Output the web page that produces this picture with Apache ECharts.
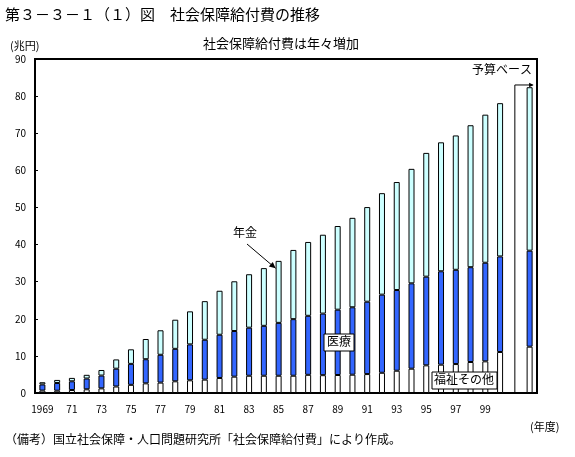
<!DOCTYPE html>
<html>
<head>
<meta charset="utf-8">
<script src="https://cdn.jsdelivr.net/npm/echarts@6/dist/echarts.min.js"></script>
<style>html,body{margin:0;padding:0;background:#fff;}#c{width:575px;height:457px;}</style>
</head>
<body>
<div id="c"></div>
<script>
// ---- data (兆円) ----
const categories = ['1969','1970','1971','1972','1973','1974','1975','1976','1977','1978','1979','1980','1981','1982','1983','1984','1985','1986','1987','1988','1989','1990','1991','1992','1993','1994','1995','1996','1997','1998','1999','2000','gap','2001'];
const tickLabels = ['1969','','71','','73','','75','','77','','79','','81','','83','','85','','87','','89','','91','','93','','95','','97','','99','','',''];
const welfare = [0.65,0.62,0.80,1.00,1.25,1.75,2.20,2.60,2.80,3.15,3.42,3.60,4.05,4.40,4.65,4.65,4.65,4.65,4.90,4.80,4.85,4.93,5.10,5.45,6.00,6.55,7.45,7.63,7.80,8.35,8.53,11.05,'-',12.48];
const medical = [1.65,2.08,2.35,2.90,3.45,4.80,5.65,6.50,7.50,8.75,9.68,10.75,11.65,12.30,12.95,13.45,14.25,15.25,15.90,16.60,17.60,18.17,19.50,21.05,21.75,23.00,23.90,25.17,25.40,25.55,26.57,25.75,'-',25.87];
const pension = [0.60,0.82,0.92,1.00,1.50,2.50,3.92,5.45,6.60,7.85,8.90,10.40,11.85,13.40,14.40,15.55,16.70,18.65,19.90,21.25,22.55,24.10,25.50,27.35,29.10,30.85,33.35,34.75,36.20,38.25,39.90,41.30,'-',44.05];
const yMin = 0, yMax = 90, yStep = 10;

const FONT = '"Noto Sans CJK JP", sans-serif';
const chart = echarts.init(document.getElementById('c'), null, {renderer:'canvas'});

function barSeries(name, data, color) {
  return {
    name: name, type: 'bar', stack: 'total', data: data, barWidth: 6,
    itemStyle: {color: color, borderColor: '#000', borderWidth: 1},
    emphasis: {disabled: true}, animation: false
  };
}

chart.setOption({
  animation: false,
  textStyle: {fontFamily: FONT},
  grid: {left: 35, right: 38, top: 59, bottom: 64, show: true, borderColor: '#000', borderWidth: 2, backgroundColor: 'transparent'},
  xAxis: {
    type: 'category', data: categories, boundaryGap: true,
    axisLine: {lineStyle: {color: '#000', width: 2}},
    axisTick: {inside: true, interval: 0, length: 3, lineStyle: {color: '#000', width: 1}},
    axisLabel: {interval: 0, color: '#000', fontSize: 10, fontFamily: FONT, margin: 11,
      formatter: function (v, i) { return tickLabels[i]; }},
    splitLine: {show: false}
  },
  yAxis: {
    type: 'value', min: yMin, max: yMax, interval: yStep,
    axisLine: {show: true, lineStyle: {color: '#000', width: 2}},
    axisTick: {show: true, inside: true, length: 3, lineStyle: {color: '#000', width: 1}},
    axisLabel: {color: '#000', fontSize: 10, fontFamily: FONT, margin: 9},
    splitLine: {show: false}
  },
  series: [
    barSeries('福祉その他', welfare, '#FFFFFF'),
    barSeries('医療', medical, '#3366FF'),
    barSeries('年金', pension, '#CCFFFF')
  ]
});

// ---- annotations positioned from the axes ----
function px(cat, val) { return chart.convertToPixel({xAxisIndex: 0, yAxisIndex: 0}, [cat, val]); }
function arrowHead(x1, y1, x2, y2, size) {
  const a = Math.atan2(y2 - y1, x2 - x1);
  const s = size || 6, w = 0.45;
  return [[x2, y2], [x2 - s * Math.cos(a - w), y2 - s * Math.sin(a - w)], [x2 - s * Math.cos(a + w), y2 - s * Math.sin(a + w)]];
}
const i85 = categories.indexOf('1985');
const tot85 = welfare[i85] + medical[i85] + pension[i85];
const tip = px('1985', tot85 - 2); tip[0] -= 3;
const gapTop = px('gap', 83);
const gapBot = px('gap', 0);
const bud = px('2001', 83);
const bx2 = bud[0] + 3;

const g = [
  {type: 'text', left: 5, top: 7, style: {text: '第３－３－１（１）図　社会保障給付費の推移', fill: '#000', font: '15px ' + FONT}},
  {type: 'text', left: 10, top: 40, style: {text: '(兆円)', fill: '#000', font: '11px ' + FONT}},
  {type: 'text', left: 203, top: 37, style: {text: '社会保障給付費は年々増加', fill: '#000', font: '13px ' + FONT}},
  {type: 'text', left: 5, top: 433, style: {text: '（備考）国立社会保障・人口問題研究所「社会保障給付費」により作成。', fill: '#000', font: '12px ' + FONT}},
  {type: 'text', left: 530, top: 421, style: {text: '(年度)', fill: '#000', font: '11px ' + FONT}},
  // 年金 label + arrow
  {type: 'text', left: 233, top: 226, style: {text: '年金', fill: '#000', font: '12px ' + FONT}},
  {type: 'line', shape: {x1: 247, y1: 244, x2: tip[0], y2: tip[1]}, style: {stroke: '#000', lineWidth: 1}},
  {type: 'polygon', shape: {points: arrowHead(247, 244, tip[0], tip[1], 7)}, style: {fill: '#000'}},
  // 医療 box
  {type: 'rect', shape: {x: 324, y: 334, width: 30, height: 17}, style: {fill: '#fff', stroke: '#000', lineWidth: 1}, z: 10},
  {type: 'text', left: 327, top: 335, z: 11, style: {text: '医療', fill: '#000', font: '12px ' + FONT}},
  // 福祉その他 box
  {type: 'rect', shape: {x: 432, y: 372, width: 65, height: 17}, style: {fill: '#fff', stroke: '#000', lineWidth: 1}, z: 10},
  {type: 'text', left: 434, top: 373, z: 11, style: {text: '福祉その他', fill: '#000', font: '12px ' + FONT}},
  // 予算ベース bracket
  {type: 'text', left: 472, top: 63, style: {text: '予算ベース', fill: '#000', font: '12px ' + FONT}},
  {type: 'polyline', shape: {points: [[gapBot[0], gapBot[1]], [gapTop[0], gapTop[1]], [bx2, gapTop[1]]]}, style: {stroke: '#000', lineWidth: 1, fill: null}},
  {type: 'polygon', shape: {points: arrowHead(gapTop[0], gapTop[1], bx2 + 1, gapTop[1], 5)}, style: {fill: '#000'}}
];
chart.setOption({graphic: g});
</script>
</body>
</html>
